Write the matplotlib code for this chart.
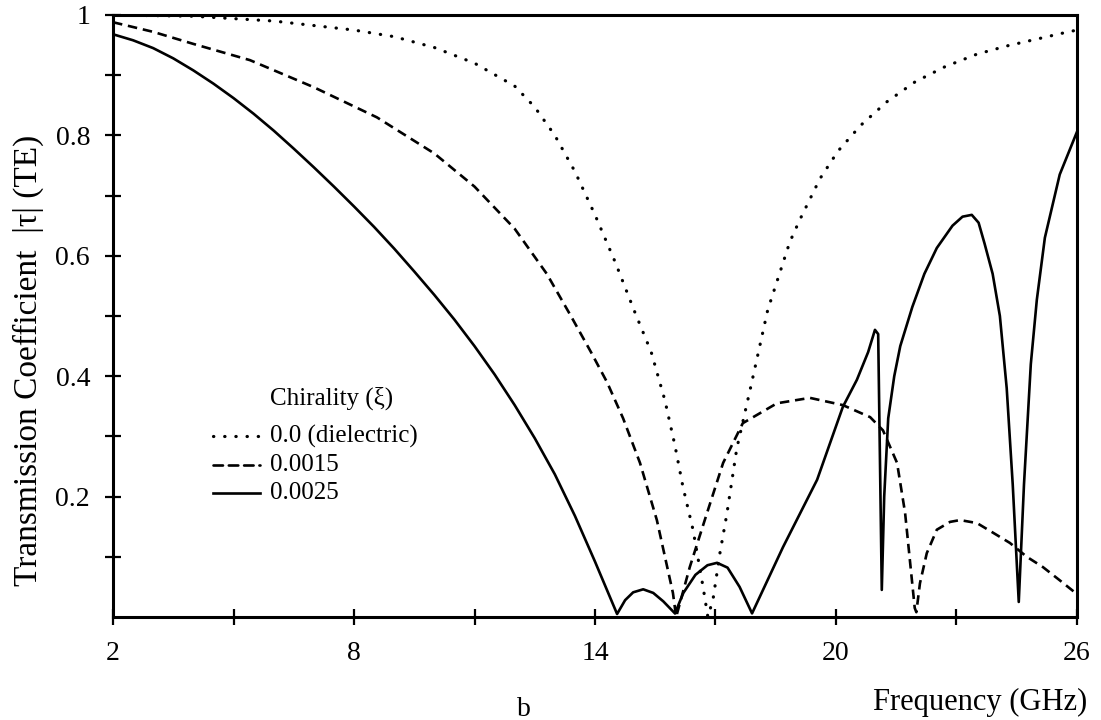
import matplotlib
matplotlib.use("Agg")
import matplotlib.pyplot as plt

# Chirality 0.0 (dielectric) - dotted
f_diel = [2.0, 4.0, 6.0, 8.0, 9.0, 10.0, 11.0, 12.0, 12.5, 13.0, 13.5, 14.0, 14.5, 15.0,
          15.4, 15.74, 15.99, 16.19, 16.44, 16.69, 16.81, 16.94, 17.11, 17.28, 17.53,
          17.86, 18.3, 18.85, 19.1, 19.6, 20.05, 20.62, 21.27, 21.97, 22.71, 23.51,
          24.28, 25.13, 25.65, 26.0]
t_diel = [1.0, 0.998, 0.99, 0.975, 0.964, 0.946, 0.92, 0.882, 0.847, 0.8, 0.74, 0.668,
          0.59, 0.505, 0.44, 0.36, 0.285, 0.216, 0.145, 0.05, 0.0, 0.03, 0.106, 0.17,
          0.28, 0.377, 0.51, 0.623, 0.66, 0.728, 0.774, 0.817, 0.856, 0.889, 0.914,
          0.935, 0.949, 0.962, 0.97, 0.975]

# Chirality 0.0015 - dashed
f_015 = [2.0, 3.0, 4.0, 5.41, 7.0, 8.57, 9.07, 10.0, 11.0, 12.0, 12.8, 13.4, 13.9, 14.3,
         14.7, 15.12, 15.54, 15.94, 16.02, 16.36, 16.79, 17.19, 17.68, 18.53, 19.35,
         20.17, 20.85, 21.17, 21.52, 21.72, 21.96, 22.0, 22.09, 22.26, 22.51, 22.84,
         23.09, 23.51, 23.91, 24.33, 24.75, 25.15, 25.57, 26.0]
t_015 = [0.988, 0.972, 0.952, 0.925, 0.88, 0.83, 0.809, 0.77, 0.715, 0.645, 0.57, 0.5,
         0.44, 0.39, 0.33, 0.256, 0.161, 0.04, 0.0, 0.083, 0.173, 0.256, 0.322, 0.355,
         0.364, 0.352, 0.332, 0.31, 0.256, 0.173, 0.015, 0.008, 0.056, 0.106, 0.145,
         0.158, 0.161, 0.156, 0.14, 0.123, 0.1, 0.083, 0.061, 0.038]

# Chirality 0.0025 - solid
f_025 = [2.0, 2.5, 3.0, 3.5, 4.0, 4.5, 5.0, 5.5, 6.0, 6.5, 7.0, 7.5, 8.0, 8.5, 9.0, 9.5,
         10.0, 10.5, 11.0, 11.5, 12.0, 12.5, 13.0, 13.5, 14.0, 14.55, 14.75, 14.95,
         15.2, 15.45, 15.7, 15.99, 16.2, 16.5, 16.8, 17.04, 17.3, 17.6, 17.91, 18.68,
         19.53, 20.17, 20.52, 20.8, 20.97, 21.05, 21.14, 21.2, 21.3, 21.45, 21.6, 21.9,
         22.2, 22.51, 22.9, 23.15, 23.38, 23.55, 23.7, 23.9, 24.08, 24.25, 24.4, 24.55,
         24.68, 24.85, 25.0, 25.2, 25.57, 26.0]
t_025 = [0.968, 0.958, 0.945, 0.928, 0.908, 0.886, 0.862, 0.836, 0.808, 0.778, 0.747,
         0.715, 0.682, 0.648, 0.612, 0.574, 0.535, 0.494, 0.45, 0.403, 0.352, 0.297,
         0.237, 0.168, 0.092, 0.005, 0.028, 0.041, 0.046, 0.04, 0.026, 0.006, 0.04, 0.07,
         0.086, 0.09, 0.082, 0.05, 0.006, 0.116, 0.228, 0.349, 0.394, 0.44, 0.477, 0.47,
         0.045, 0.2, 0.33, 0.4, 0.45, 0.515, 0.57, 0.613, 0.65, 0.665, 0.668, 0.655, 0.62,
         0.57, 0.5, 0.38, 0.22, 0.025, 0.22, 0.42, 0.527, 0.63, 0.735, 0.806]

x_ticks = [2, 5, 8, 11, 14, 17, 20, 23, 26]
x_labels = ["2", "", "8", "", "14", "", "20", "", "26"]
y_ticks = [0.1, 0.2, 0.3, 0.4, 0.5, 0.6, 0.7, 0.8, 0.9, 1.0]
y_labels = ["", "0.2", "", "0.4", "", "0.6", "", "0.8", "", "1"]

legend_title = "Chirality (\u03be)"
legend_names = ["0.0 (dielectric)", "0.0015", "0.0025"]

plt.rcParams['font.family'] = ['Liberation Serif', 'DejaVu Serif']

DOT = (0, (0.1, 3.4))
DASH = (0, (3.6, 2.2))

fig = plt.figure(figsize=(11.01, 7.2), dpi=100)
ax = fig.add_axes([113 / 1101, 103 / 720, 964 / 1101, 602 / 720])

ax.plot(f_diel, t_diel, color='black', lw=2.3, linestyle=DOT, dash_capstyle='round')
ax.plot(f_015, t_015, color='black', lw=1.9, linestyle=DASH)
ax.plot(f_025, t_025, color='black', lw=1.9)

ax.set_xlim(2, 26)
ax.set_ylim(0, 1)
ax.set_xticks(x_ticks)
ax.set_xticklabels(x_labels)
ax.set_yticks(y_ticks)
ax.set_yticklabels(y_labels)
ax.tick_params(direction='inout', length=11, width=1.6, labelsize=20, pad=11)
ax.tick_params(axis='x', pad=12)
for s in ax.spines.values():
    s.set_linewidth(2.2)

fig.text(28 / 1101, 1 - 360 / 720, "Transmission Coefficient  |\u03c4| (TE)",
         rotation=90, ha='center', va='center', fontsize=24)
fig.text(1087 / 1101, 1 - 702 / 720, "Frequency (GHz)", ha='right', va='center',
         fontsize=22)
fig.text(524 / 1101, 1 - 697 / 720, "b", ha='center', va='top', fontsize=20)

# legend drawn as text with line samples
ax.text((270 - 113) / 964, (617 - 398) / 602, legend_title,
        transform=ax.transAxes, fontsize=18, va='center', ha='left')
rows_y = [436, 465, 493]
styles = [(DOT, 2.3), (DASH, 1.9), ('-', 1.9)]
for (ls, lw), name, y in zip(styles, legend_names, rows_y):
    ya = (617 - y) / 602
    ax.plot([(213 - 113) / 964, (260 - 113) / 964], [ya, ya], transform=ax.transAxes,
            color='black', lw=lw, linestyle=ls, dash_capstyle='round')
    ax.text((270 - 113) / 964, ya, name, transform=ax.transAxes, fontsize=18,
            va='center', ha='left')

fig.savefig("out.png", dpi=100)
